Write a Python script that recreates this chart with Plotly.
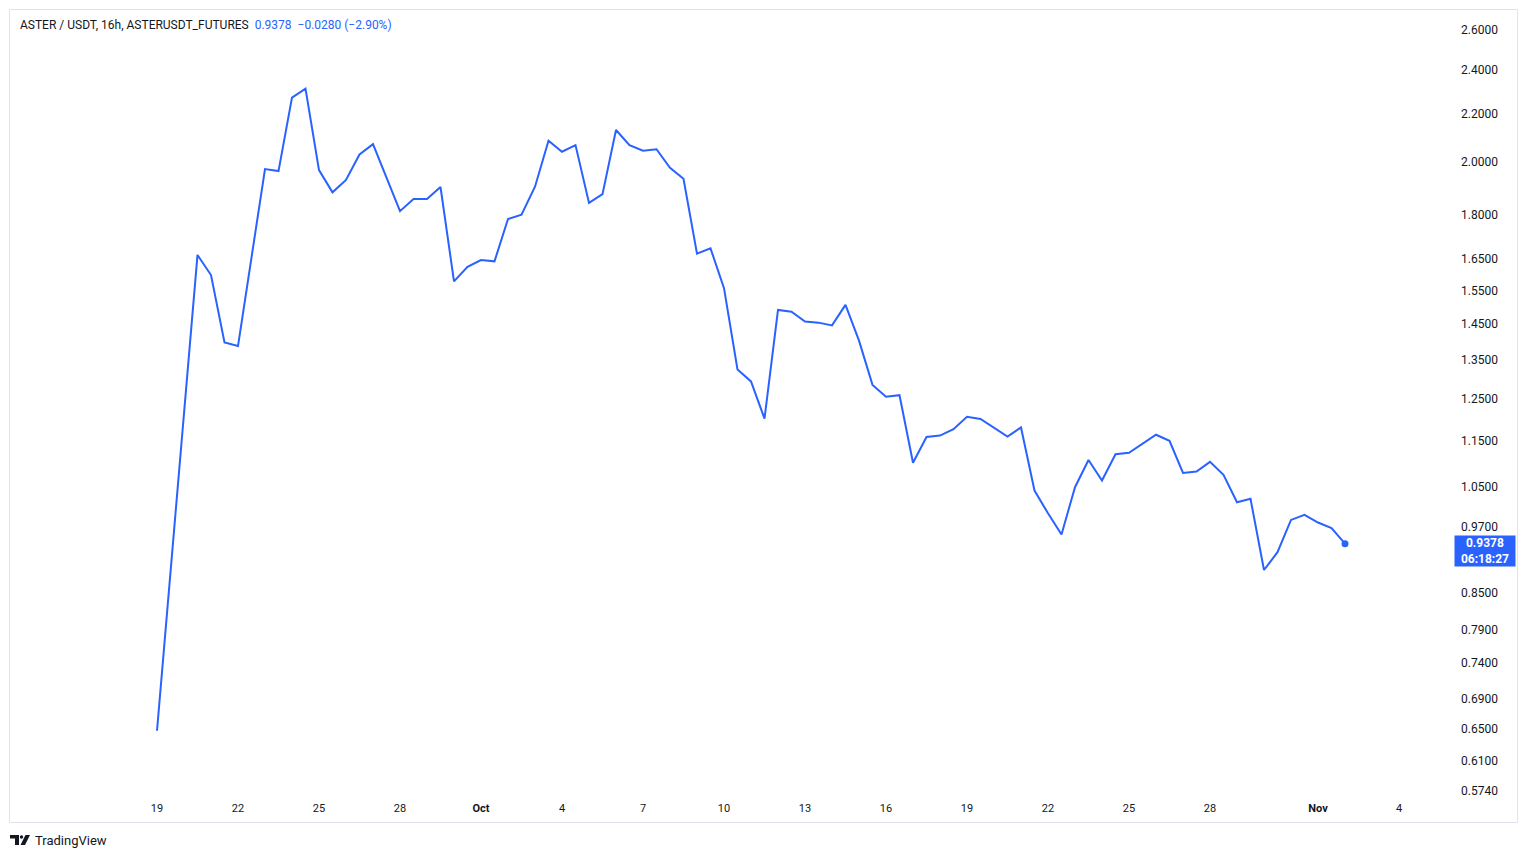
import math
import pandas as pd
import plotly.graph_objects as go

# ---------------- data ----------------
start_time = "2025-09-19 00:00"
bar_step = "12h"
prices = [
    0.647, 0.889, 1.223, 1.663, 1.598, 1.398, 1.388, 1.655, 1.972, 1.964,
    2.272, 2.313, 1.968, 1.883, 1.930, 2.030, 2.072, 1.939, 1.814, 1.858,
    1.858, 1.903, 1.578, 1.624, 1.646, 1.642, 1.786, 1.801, 1.904, 2.086,
    2.041, 2.068, 1.844, 1.876, 2.131, 2.068, 2.045, 2.051, 1.977, 1.934,
    1.667, 1.685, 1.557, 1.325, 1.294, 1.202, 1.491, 1.486, 1.457, 1.454,
    1.446, 1.506, 1.403, 1.285, 1.255, 1.259, 1.101, 1.159, 1.162, 1.177,
    1.206, 1.201, 1.181, 1.160, 1.181, 1.042, 0.996, 0.955, 1.049, 1.107,
    1.063, 1.120, 1.123, 1.143, 1.164, 1.150, 1.079, 1.082, 1.103, 1.075,
    1.018, 1.025, 0.890, 0.922, 0.983, 0.993, 0.978, 0.967, 0.9378,
]
last_price = 0.9378
change_text = "\u22120.0280 (\u22122.90%)"
countdown = "06:18:27"
title_text = "ASTER / USDT, 16h, ASTERUSDT_FUTURES"

price_ticks = [2.6, 2.4, 2.2, 2.0, 1.8, 1.65, 1.55, 1.45, 1.35, 1.25, 1.15,
               1.05, 0.97, 0.85, 0.79, 0.74, 0.69, 0.65, 0.61, 0.574]
date_ticks = ["2025-09-19", "2025-09-22", "2025-09-25", "2025-09-28", "2025-10-01",
              "2025-10-04", "2025-10-07", "2025-10-10", "2025-10-13", "2025-10-16",
              "2025-10-19", "2025-10-22", "2025-10-25", "2025-10-28", "2025-11-01",
              "2025-11-04"]
date_labels = ["19", "22", "25", "28", "<b>Oct</b>", "4", "7", "10", "13", "16",
               "19", "22", "25", "28", "<b>Nov</b>", "4"]

times = pd.date_range(start_time, periods=len(prices), freq=bar_step)

# ---------------- styling / layout ----------------
BLUE = "#2962FF"
TXT = "#131722"
FONT = "Roboto"
W, H = 1512, 842           # page has 8px body margin
OFF = 8
PL, PR, PT, PB = 10, 1440, 10, 798   # plot area in page pixels


def pxx(x):
    return (x - PL) / (PR - PL)


def pxy(y):
    return (PB - y) / (PB - PT)


fig = go.Figure()
fig.add_trace(go.Scatter(x=times, y=prices, mode="lines",
                         line=dict(color=BLUE, width=2), hoverinfo="skip",
                         showlegend=False))
fig.add_trace(go.Scatter(x=[times[-1]], y=[prices[-1]], mode="markers",
                         marker=dict(color=BLUE, size=7), hoverinfo="skip",
                         showlegend=False))

shapes = []
# frame
shapes.append(dict(type="rect", xref="paper", yref="paper",
                   x0=pxx(9.5), x1=pxx(1517.5), y0=pxy(822.5), y1=pxy(9.5),
                   line=dict(color="#e0e3eb", width=1), layer="below"))
# last price dotted line
ly = math.log10(last_price)
shapes.append(dict(type="line", xref="paper", yref="y", x0=0, x1=1, y0=ly, y1=ly,
                   line=dict(color="#22577a", width=1, dash="dot")))
# TradingView logo (approximate)
shapes.append(dict(type="rect", xref="paper", yref="paper",
                   x0=pxx(10), x1=pxx(19), y0=pxy(838.5), y1=pxy(835),
                   fillcolor=TXT, line=dict(width=0)))
shapes.append(dict(type="rect", xref="paper", yref="paper",
                   x0=pxx(15), x1=pxx(19), y0=pxy(845), y1=pxy(835),
                   fillcolor=TXT, line=dict(width=0)))
shapes.append(dict(type="circle", xref="paper", yref="paper",
                   x0=pxx(19.8), x1=pxx(23.2), y0=pxy(838.7), y1=pxy(835.3),
                   fillcolor=TXT, line=dict(width=0)))
shapes.append(dict(type="path", xref="paper", yref="paper",
                   path="M {} {} L {} {} L {} {} L {} {} Z".format(
                       pxx(25.5), pxy(835), pxx(30), pxy(835),
                       pxx(25), pxy(845), pxx(20.5), pxy(845)),
                   fillcolor=TXT, line=dict(width=0)))

annotations = [
    dict(xref="paper", yref="paper", x=pxx(18), y=pxy(24.5), xanchor="left",
         yanchor="middle", showarrow=False, align="left",
         text=(f"<span style='color:{TXT}'>{title_text}</span>"
               f"  <span style='color:{BLUE}'>{last_price:.4f}</span>"
               f"  <span style='color:{BLUE}'>{change_text}</span>"),
         font=dict(family=FONT, size=12, color=TXT)),
    dict(xref="paper", yref="y", x=pxx(1454), y=math.log10(last_price), xanchor="left",
         yanchor="middle", yshift=-7, showarrow=False, align="center",
         text=f"<b>{last_price:.4f}</b><br><b>{countdown}</b>",
         font=dict(family=FONT, size=12, color="white"),
         bgcolor=BLUE, borderpad=1, width=58, height=28),
    dict(xref="paper", yref="paper", x=pxx(33), y=pxy(840), xanchor="left",
         yanchor="middle", showarrow=False, text="TradingView",
         font=dict(family=FONT, size=13, color=TXT)),
]

# axis ranges derived from pixel calibration of the reference
k = 504.0
a = 1.01446
ytop = (a - PT / k) / math.log(10)
ybot = (a - PB / k) / math.log(10)
t0 = pd.Timestamp(start_time)
px_per_day = 27.0
x0_day = (PL - 157) / px_per_day
x1_day = (PR - 157) / px_per_day
xr = [t0 + pd.Timedelta(days=x0_day), t0 + pd.Timedelta(days=x1_day)]

fig.update_layout(
    width=W, height=H,
    margin=dict(l=PL - OFF, r=W - (PR - OFF), t=PT - OFF, b=H - (PB - OFF)),
    paper_bgcolor="white", plot_bgcolor="white",
    font=dict(family=FONT, size=12, color=TXT),
    shapes=shapes, annotations=annotations,
    xaxis=dict(type="date", range=xr, showgrid=False, zeroline=False,
               showline=False, tickvals=list(pd.to_datetime(date_ticks)),
               ticktext=date_labels, ticks="", ticklabelstandoff=2,
               tickfont=dict(size=11, color=TXT,
                             family="Liberation Sans Narrow, Roboto")),
    yaxis=dict(type="log", range=[ybot, ytop], side="right", showgrid=False,
               zeroline=False, showline=False, tickvals=price_ticks,
               ticktext=[f"{v:.4f}" for v in price_ticks], ticks="",
               ticklabelstandoff=20, tickfont=dict(size=12, color=TXT, family=FONT)),
)

fig.write_html("out.html")
